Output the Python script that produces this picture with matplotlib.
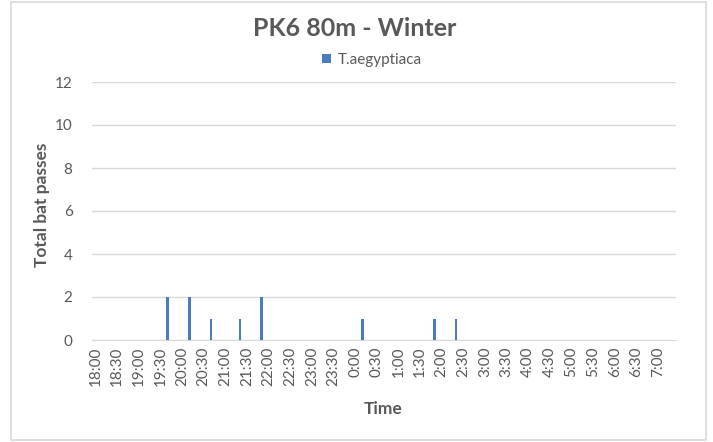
import matplotlib.pyplot as plt
import numpy as np
from matplotlib.patches import Rectangle

plt.rcParams['font.family'] = ['Lato', 'DejaVu Sans']

# 10-minute bins from 18:00 to 7:20
times = []
for k in range(81):
    m = 18 * 60 + 10 * k
    times.append('%d:%02d' % ((m // 60) % 24, m % 60))

pass_times = ['19:40', '20:10', '20:40', '21:20', '21:50', '0:10', '1:50', '2:20']
pass_counts = [2, 2, 1, 1, 2, 1, 1, 1]

counts = np.zeros(len(times))
for t, c in zip(pass_times, pass_counts):
    counts[times.index(t)] = c

text_col = '#595959'
grid_col = '#d9d9d9'
bar_col = '#4a7cc0'

fig = plt.figure(figsize=(7.13, 4.42), dpi=100)
fig.patches.append(Rectangle((0.015, 0.005), 0.975, 0.99, transform=fig.transFigure,
                             fill=False, edgecolor=grid_col, linewidth=1.2))

ax = fig.add_axes([92 / 713, 102 / 442, 584 / 713, 258 / 442])
x = np.arange(len(times))
ax.bar(x, counts, width=0.35, color=bar_col, label='T.aegyptiaca', zorder=3)

ax.set_xlim(-0.5, len(times) - 0.5)
ax.set_ylim(0, 12)
ax.set_yticks(range(0, 13, 2))
ax.set_xticks(x[::3])
ax.set_xticklabels(times[::3], rotation=90)
ax.tick_params(axis='both', length=0, colors=text_col, labelsize=11)
ax.tick_params(axis='x', pad=5)
ax.tick_params(axis='y', pad=14)
ax.grid(axis='y', color=grid_col, linewidth=1, zorder=0)
for s in ['top', 'right', 'left']:
    ax.spines[s].set_visible(False)
ax.spines['bottom'].set_color(grid_col)

fig.text(42 / 713, 1 - 205 / 442, 'Total bat passes', ha='center', va='center', rotation=90,
         fontsize=12.5, fontweight='bold', color=text_col)
fig.text(383 / 713, 1 - 409 / 442, 'Time', ha='center', va='center',
         fontsize=12.5, fontweight='bold', color=text_col)
fig.text(355 / 713, 1 - 28 / 442, 'PK6 80m - Winter', ha='center', va='center',
         fontsize=18, fontweight='bold', color=text_col)

leg = fig.legend(loc='center', bbox_to_anchor=(372 / 713, 1 - 60 / 442), frameon=False,
                 fontsize=11, handlelength=0.6, handleheight=0.6, handletextpad=0.4)
for t in leg.get_texts():
    t.set_color(text_col)

fig.savefig('out.png', dpi=100)
